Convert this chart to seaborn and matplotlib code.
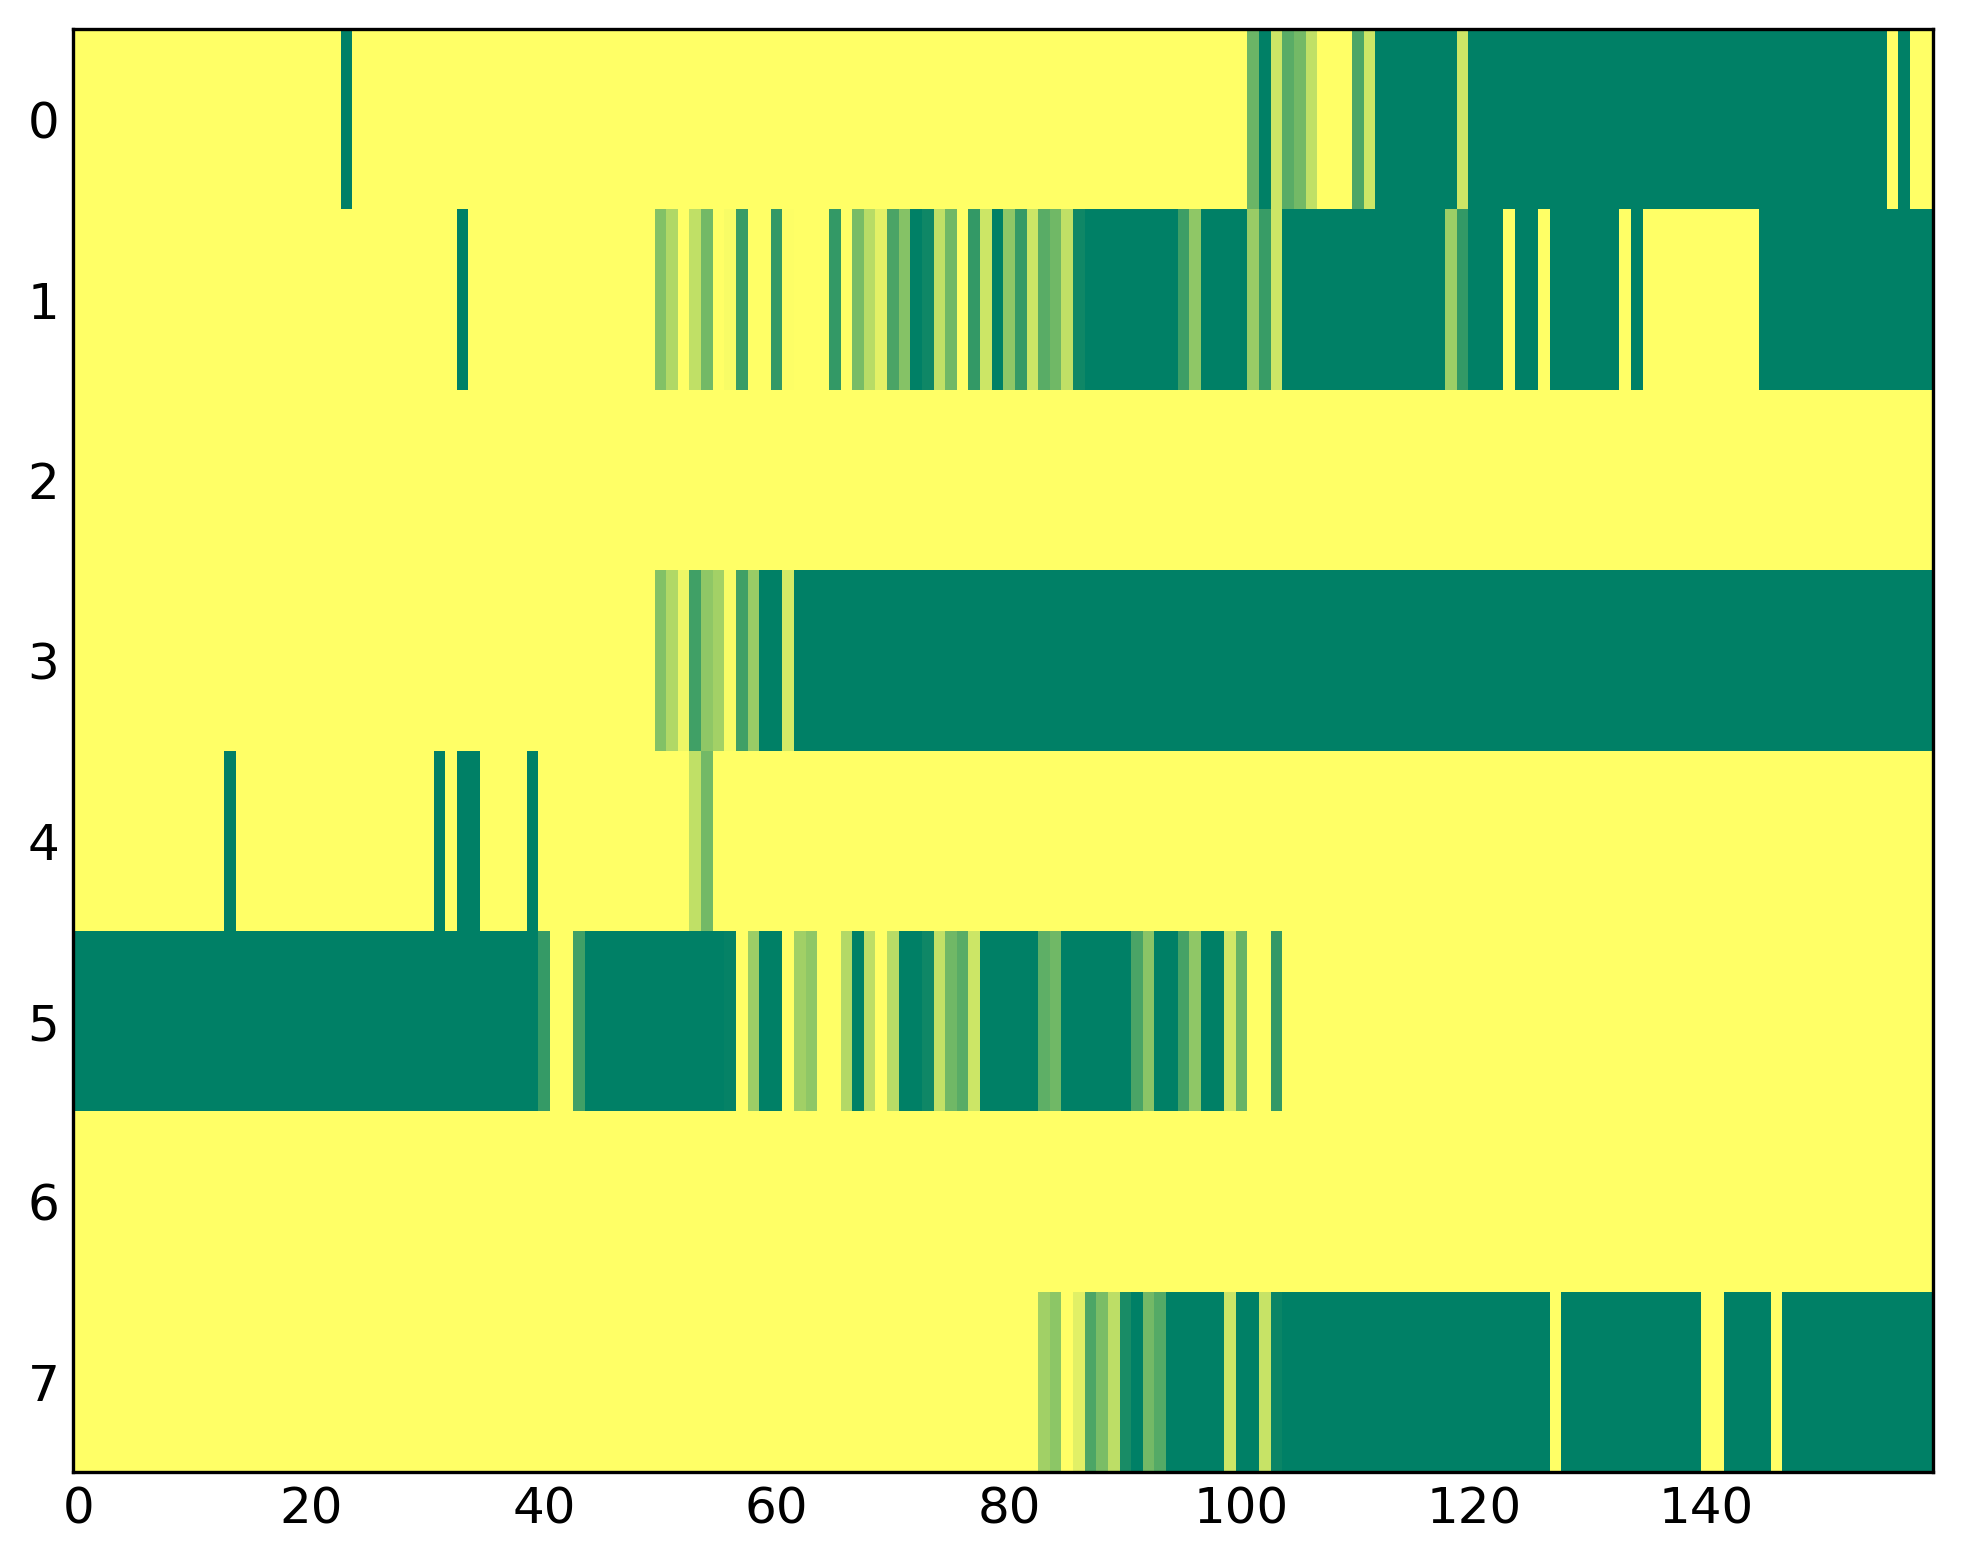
import numpy as np
import matplotlib
matplotlib.use("Agg")
import matplotlib.pyplot as plt
import seaborn as sns

# ---- data: one list of 160 cell values per row (0 = green, 1 = yellow) ----
row0 = [
    1, 1, 1, 1, 1, 1, 1, 1, 1, 1,
    1, 1, 1, 1, 1, 1, 1, 1, 1, 1,
    1, 1, 1, 0, 1, 1, 1, 1, 1, 1,
    1, 1, 1, 1, 1, 1, 1, 1, 1, 1,
    1, 1, 1, 1, 1, 1, 1, 1, 1, 1,
    1, 1, 1, 1, 1, 1, 1, 1, 1, 1,
    1, 1, 1, 1, 1, 1, 1, 1, 1, 1,
    1, 1, 1, 1, 1, 1, 1, 1, 1, 1,
    1, 1, 1, 1, 1, 1, 1, 1, 1, 1,
    1, 1, 1, 1, 1, 1, 1, 1, 1, 1,
    1, .42, 0, .8, .35, .45, .75, 1, 1, 1,
    .3, .8, 0, 0, 0, 0, 0, 0, 0, .8,
    0, 0, 0, 0, 0, 0, 0, 0, 0, 0,
    0, 0, 0, 0, 0, 0, 0, 0, 0, 0,
    0, 0, 0, 0, 0, 0, 0, 0, 0, 0,
    0, 0, 0, 0, 0, 0, 1, 0, 1, 1,
]
row1 = [
    1, 1, 1, 1, 1, 1, 1, 1, 1, 1,
    1, 1, 1, 1, 1, 1, 1, 1, 1, 1,
    1, 1, 1, 1, 1, 1, 1, 1, 1, 1,
    1, 1, 1, 0, 1, 1, 1, 1, 1, 1,
    1, 1, 1, 1, 1, 1, 1, 1, 1, 1,
    .51, .69, 1, .75, .45, 1, .97, .22, 1, 1,
    .2, .99, 1, 1, 1, .2, 1, .47, .72, .89,
    .29, .52, 0, .06, .75, .44, 1, .2, .8, 0,
    .56, .21, .8, .35, .44, .75, .06, 0, 0, 0,
    0, 0, 0, 0, 0, .24, .56, 0, 0, 0,
    0, .6, .22, .8, 0, 0, 0, 0, 0, 0,
    0, 0, 0, 0, 0, 0, 0, 0, .61, .2,
    0, 0, 0, 1, 0, 0, 1, 0, 0, 0,
    0, 0, 0, 1, 0, 1, 1, 1, 1, 1,
    1, 1, 1, 1, 1, 0, 0, 0, 0, 0,
    0, 0, 0, 0, 0, 0, 0, 0, 0, 0,
]
row2 = [
    1, 1, 1, 1, 1, 1, 1, 1, 1, 1,
    1, 1, 1, 1, 1, 1, 1, 1, 1, 1,
    1, 1, 1, 1, 1, 1, 1, 1, 1, 1,
    1, 1, 1, 1, 1, 1, 1, 1, 1, 1,
    1, 1, 1, 1, 1, 1, 1, 1, 1, 1,
    1, 1, 1, 1, 1, 1, 1, 1, 1, 1,
    1, 1, 1, 1, 1, 1, 1, 1, 1, 1,
    1, 1, 1, 1, 1, 1, 1, 1, 1, 1,
    1, 1, 1, 1, 1, 1, 1, 1, 1, 1,
    1, 1, 1, 1, 1, 1, 1, 1, 1, 1,
    1, 1, 1, 1, 1, 1, 1, 1, 1, 1,
    1, 1, 1, 1, 1, 1, 1, 1, 1, 1,
    1, 1, 1, 1, 1, 1, 1, 1, 1, 1,
    1, 1, 1, 1, 1, 1, 1, 1, 1, 1,
    1, 1, 1, 1, 1, 1, 1, 1, 1, 1,
    1, 1, 1, 1, 1, 1, 1, 1, 1, 1,
]
row3 = [
    1, 1, 1, 1, 1, 1, 1, 1, 1, 1,
    1, 1, 1, 1, 1, 1, 1, 1, 1, 1,
    1, 1, 1, 1, 1, 1, 1, 1, 1, 1,
    1, 1, 1, 1, 1, 1, 1, 1, 1, 1,
    1, 1, 1, 1, 1, 1, 1, 1, 1, 1,
    .51, .69, .93, .25, .56, .64, .97, .25, .6, 0,
    0, .83, 0, 0, 0, 0, 0, 0, 0, 0,
    0, 0, 0, 0, 0, 0, 0, 0, 0, 0,
    0, 0, 0, 0, 0, 0, 0, 0, 0, 0,
    0, 0, 0, 0, 0, 0, 0, 0, 0, 0,
    0, 0, 0, 0, 0, 0, 0, 0, 0, 0,
    0, 0, 0, 0, 0, 0, 0, 0, 0, 0,
    0, 0, 0, 0, 0, 0, 0, 0, 0, 0,
    0, 0, 0, 0, 0, 0, 0, 0, 0, 0,
    0, 0, 0, 0, 0, 0, 0, 0, 0, 0,
    0, 0, 0, 0, 0, 0, 0, 0, 0, 0,
]
row4 = [
    1, 1, 1, 1, 1, 1, 1, 1, 1, 1,
    1, 1, 1, 0, 1, 1, 1, 1, 1, 1,
    1, 1, 1, 1, 1, 1, 1, 1, 1, 1,
    1, 0, 1, 0, 0, 1, 1, 1, 1, 0,
    1, 1, 1, 1, 1, 1, 1, 1, 1, 1,
    1, 1, 1, .75, .45, 1, 1, 1, 1, 1,
    1, 1, 1, 1, 1, 1, 1, 1, 1, 1,
    1, 1, 1, 1, 1, 1, 1, 1, 1, 1,
    1, 1, 1, 1, 1, 1, 1, 1, 1, 1,
    1, 1, 1, 1, 1, 1, 1, 1, 1, 1,
    1, 1, 1, 1, 1, 1, 1, 1, 1, 1,
    1, 1, 1, 1, 1, 1, 1, 1, 1, 1,
    1, 1, 1, 1, 1, 1, 1, 1, 1, 1,
    1, 1, 1, 1, 1, 1, 1, 1, 1, 1,
    1, 1, 1, 1, 1, 1, 1, 1, 1, 1,
    1, 1, 1, 1, 1, 1, 1, 1, 1, 1,
]
row5 = [
    0, 0, 0, 0, 0, 0, 0, 0, 0, 0,
    0, 0, 0, 0, 0, 0, 0, 0, 0, 0,
    0, 0, 0, 0, 0, 0, 0, 0, 0, 0,
    0, 0, 0, 0, 0, 0, 0, 0, 0, 0,
    .21, 1, 1, .25, 0, 0, 0, 0, 0, 0,
    0, 0, 0, 0, 0, 0, .02, 1, .61, 0,
    0, 1, .63, .56, 1, 1, .7, 0, .74, 1,
    .72, 0, 0, .06, .76, .44, .35, .8, 0, 0,
    0, 0, 0, .37, .44, 0, 0, 0, 0, 0,
    0, .29, .54, 0, 0, .27, .56, 0, 0, .82,
    .4, 1, 1, .2, 1, 1, 1, 1, 1, 1,
    1, 1, 1, 1, 1, 1, 1, 1, 1, 1,
    1, 1, 1, 1, 1, 1, 1, 1, 1, 1,
    1, 1, 1, 1, 1, 1, 1, 1, 1, 1,
    1, 1, 1, 1, 1, 1, 1, 1, 1, 1,
    1, 1, 1, 1, 1, 1, 1, 1, 1, 1,
]
row6 = [
    1, 1, 1, 1, 1, 1, 1, 1, 1, 1,
    1, 1, 1, 1, 1, 1, 1, 1, 1, 1,
    1, 1, 1, 1, 1, 1, 1, 1, 1, 1,
    1, 1, 1, 1, 1, 1, 1, 1, 1, 1,
    1, 1, 1, 1, 1, 1, 1, 1, 1, 1,
    1, 1, 1, 1, 1, 1, 1, 1, 1, 1,
    1, 1, 1, 1, 1, 1, 1, 1, 1, 1,
    1, 1, 1, 1, 1, 1, 1, 1, 1, 1,
    1, 1, 1, 1, 1, 1, 1, 1, 1, 1,
    1, 1, 1, 1, 1, 1, 1, 1, 1, 1,
    1, 1, 1, 1, 1, 1, 1, 1, 1, 1,
    1, 1, 1, 1, 1, 1, 1, 1, 1, 1,
    1, 1, 1, 1, 1, 1, 1, 1, 1, 1,
    1, 1, 1, 1, 1, 1, 1, 1, 1, 1,
    1, 1, 1, 1, 1, 1, 1, 1, 1, 1,
    1, 1, 1, 1, 1, 1, 1, 1, 1, 1,
]
row7 = [
    1, 1, 1, 1, 1, 1, 1, 1, 1, 1,
    1, 1, 1, 1, 1, 1, 1, 1, 1, 1,
    1, 1, 1, 1, 1, 1, 1, 1, 1, 1,
    1, 1, 1, 1, 1, 1, 1, 1, 1, 1,
    1, 1, 1, 1, 1, 1, 1, 1, 1, 1,
    1, 1, 1, 1, 1, 1, 1, 1, 1, 1,
    1, 1, 1, 1, 1, 1, 1, 1, 1, 1,
    1, 1, 1, 1, 1, 1, 1, 1, 1, 1,
    1, 1, 1, .63, .55, 1, .88, .3, .48, .74,
    .1, 0, .45, .33, 0, 0, 0, 0, 0, .8,
    0, 0, .78, .04, 0, 0, 0, 0, 0, 0,
    0, 0, 0, 0, 0, 0, 0, 0, 0, 0,
    0, 0, 0, 0, 0, 0, 0, 1, 0, 0,
    0, 0, 0, 0, 0, 0, 0, 0, 0, 0,
    1, 1, 0, 0, 0, 0, 1, 0, 0, 0,
    0, 0, 0, 0, 0, 0, 0, 0, 0, 0,
]
rows = [row0, row1, row2, row3, row4, row5, row6, row7]

x_ticks = [0, 20, 40, 60, 80, 100, 120, 140]
x_labels = ["0", "20", "40", "60", "80", "100", "120", "140"]
y_ticks = [0, 1, 2, 3, 4, 5, 6, 7]
y_labels = ["0", "1", "2", "3", "4", "5", "6", "7"]

# ---- drawing ----
sns.set_style("ticks")
plt.rcParams["font.family"] = ["DejaVu Sans"]

fig = plt.figure(figsize=(19.63, 15.64), dpi=100)
ax = fig.add_axes([0.0373, 0.0588, 0.9476, 0.9226])

data = np.array(rows, dtype=float)
sns.heatmap(data, cmap="summer", vmin=0, vmax=1, cbar=False, ax=ax,
            xticklabels=False, yticklabels=False, linewidths=0,
            rasterized=True)

ax.set_xticks(np.array(x_ticks) + 0.5)
ax.set_xticklabels(x_labels, rotation=0)
ax.set_yticks(np.array(y_ticks) + 0.5)
ax.set_yticklabels(y_labels, rotation=0)

for s in ax.spines.values():
    s.set_visible(True)
    s.set_linewidth(2.4)
    s.set_color("black")

ax.tick_params(axis="both", direction="in", length=11, width=1.0,
               top=True, right=True, labeltop=False, labelright=False,
               labelsize=36, pad=10, colors="black", labelcolor="black")

fig.savefig("out.png", dpi=100)
